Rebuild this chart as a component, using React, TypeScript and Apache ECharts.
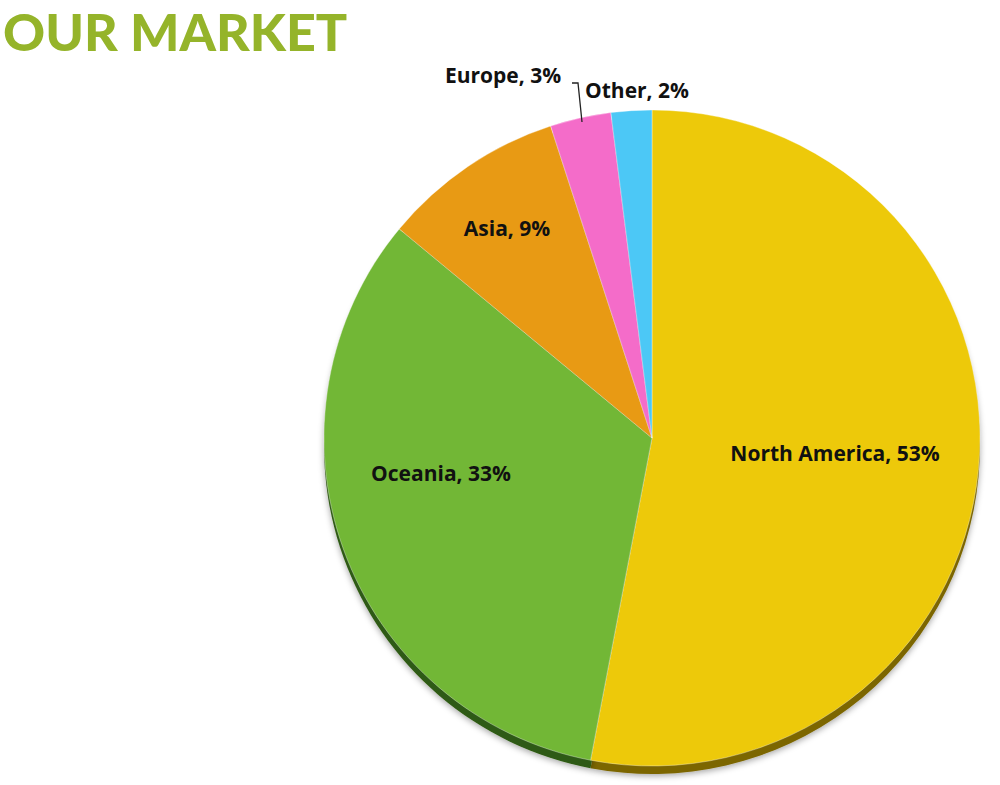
import React, { useEffect, useRef } from "react";
import * as echarts from "echarts";

const categories = ["North America", "Oceania", "Asia", "Europe", "Other"];
const shares = [53, 33, 9, 3, 2];
const colors = ["#EDC90A", "#72B736", "#E89A14", "#F46CC9", "#4CC8F6"];
const rimColors = ["#7C6606", "#2E5A12", "#8A5606", "#8E3A72", "#2A7898"];
// label anchor positions (label centre, px)
const labelPos = [
  [835, 453],
  [441, 473],
  [507, 228],
  [503, 75],
  [637, 90],
];

export default function App() {
  const ref = useRef<HTMLDivElement>(null);
  useEffect(() => {
    if (!ref.current) return;
    const chart = echarts.init(ref.current, null, { renderer: "svg" });
    const center = [652, 438];
    const radius = 328;
    chart.setOption({
      animation: false,
      backgroundColor: "#ffffff",
      title: {
        text: "OUR MARKET",
        left: -2,
        top: 0,
        textStyle: {
          fontFamily: "Lato",
          fontWeight: 900,
          fontSize: 52,
          color: "#95B42A",
        },
      },
      series: [
        {
          type: "pie",
          silent: true,
          center: [center[0], center[1] + 8],
          radius: radius,
          startAngle: 90,
          clockwise: true,
          z: 1,
          label: { show: false },
          labelLine: { show: false },
          itemStyle: {
            shadowBlur: 6,
            shadowColor: "rgba(0,0,0,0.35)",
            shadowOffsetY: 2,
          },
          data: categories.map((c, i) => ({
            name: c,
            value: shares[i],
            itemStyle: { color: rimColors[i] },
          })),
        },
        {
          type: "pie",
          center: center,
          radius: radius,
          startAngle: 90,
          clockwise: true,
          z: 2,
          itemStyle: { borderColor: "rgba(255,255,255,0.35)", borderWidth: 1 },
          label: {
            show: true,
            position: "inside",
            formatter: (p: any) => `${p.name}, ${p.value}%`,
            fontFamily: "Open Sans",
            fontWeight: "bold",
            fontSize: 21,
            color: "#111111",
          },
          labelLine: { show: false },
          labelLayout: (params: any) => {
            const pos = labelPos[params.dataIndex];
            return { x: pos[0], y: pos[1], align: "center", verticalAlign: "middle" };
          },
          data: categories.map((c, i) => ({
            name: c,
            value: shares[i],
            itemStyle: { color: colors[i] },
          })),
        },
      ],
      graphic: [
        {
          type: "polyline",
          z: 10,
          shape: { points: [[572, 83], [578, 83], [582, 122]] },
          style: { stroke: "#222222", lineWidth: 1.3, fill: null },
        },
      ],
    });
    return () => chart.dispose();
  }, []);
  return (
    <div
      ref={ref}
      style={{ position: "absolute", left: 0, top: 0, width: 1000, height: 785 }}
    />
  );
}
